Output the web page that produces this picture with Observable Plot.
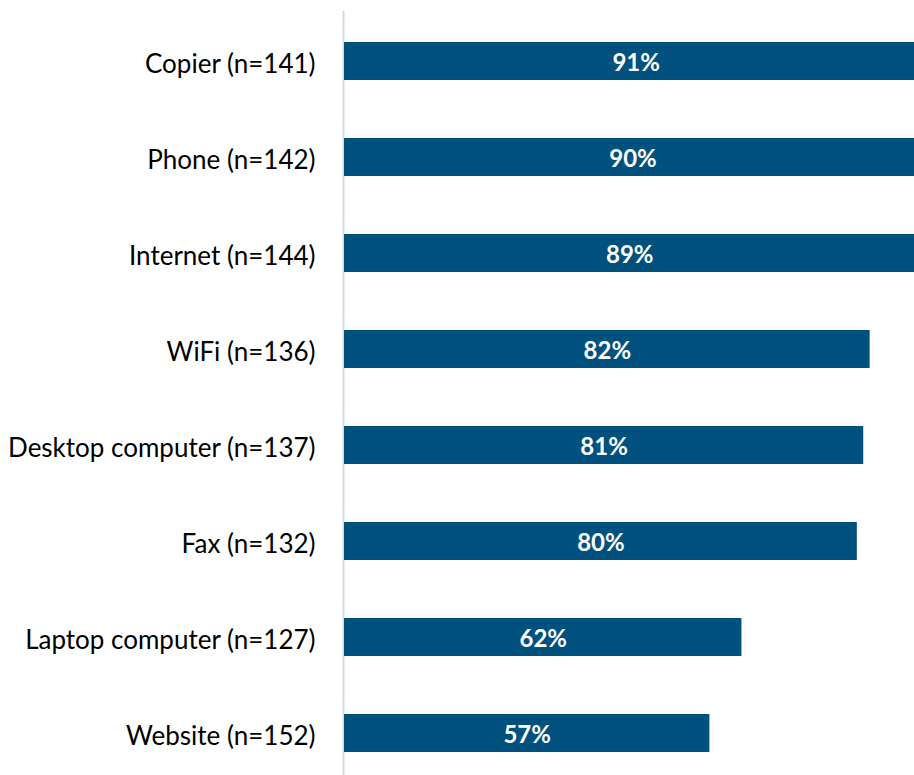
<!DOCTYPE html>
<html><head><meta charset="utf-8">
<script src="https://cdn.jsdelivr.net/npm/d3@7"></script>
<script src="https://cdn.jsdelivr.net/npm/@observablehq/plot@0.6"></script>
<style>html,body{margin:0;padding:0;overflow:hidden;background:#fff}</style>
</head><body><div id="chart"></div>
<script>
const categories = [
  "Copier (n=141)",
  "Phone (n=142)",
  "Internet (n=144)",
  "WiFi (n=136)",
  "Desktop computer (n=137)",
  "Fax (n=132)",
  "Laptop computer (n=127)",
  "Website (n=152)"
];
const values = [91, 90, 89, 82, 81, 80, 62, 57];
const data = categories.map((c, i) => ({category: c, value: values[i]}));

const chart = Plot.plot({
  width: 914,
  height: 782,
  marginLeft: 344,
  marginRight: 0,
  marginTop: 11,
  marginBottom: 0,
  style: {fontFamily: "Lato", fontSize: "26px", color: "black", background: "white"},
  x: {domain: [0, 88.92], axis: null},
  y: {domain: categories, paddingInner: 0.605, paddingOuter: 0.3025, axis: null},
  marks: [
    Plot.ruleX([0], {stroke: "#d9d9d9", strokeWidth: 2, dx: -1}),
    Plot.barX(data, {y: "category", x: "value", fill: "#01517f", clip: true}),
    Plot.text(data, {y: "category", x: 0, text: "category", textAnchor: "end", dx: -29, dy: 3, fontSize: 26, fill: "black"}),
    Plot.text(data, {y: "category", x: d => d.value / 2, text: d => d.value + "%", fill: "white", fontWeight: "bold", fontSize: 24, dy: 2})
  ]
});
document.getElementById("chart").appendChild(chart);
</script>
</body></html>
